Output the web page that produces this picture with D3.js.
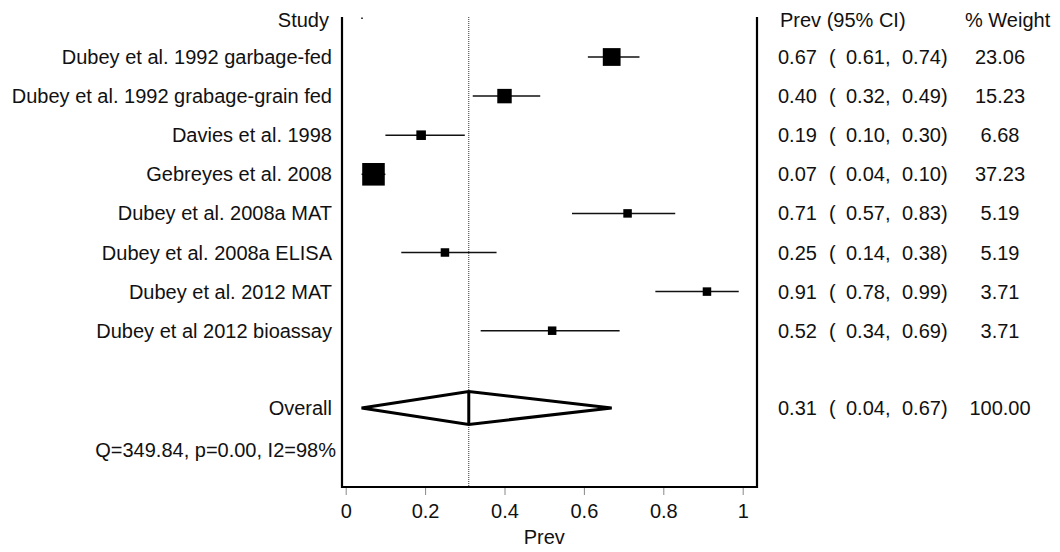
<!DOCTYPE html>
<html>
<head>
<meta charset="utf-8">
<script src="https://cdn.jsdelivr.net/npm/d3@7"></script>
<style>
  html, body { margin: 0; padding: 0; background: #fff; }
  svg text { font-family: "Liberation Sans", Arial, Helvetica, sans-serif; font-size: 20px; fill: #111; }
</style>
</head>
<body>
<svg id="chart" width="1060" height="552"></svg>
<script>
// Study-level prevalence estimates (random-effects meta-analysis)
const studies = [
  "Dubey et al. 1992 garbage-fed",
  "Dubey et al. 1992 grabage-grain fed",
  "Davies et al. 1998",
  "Gebreyes et al. 2008",
  "Dubey et al. 2008a MAT",
  "Dubey et al. 2008a ELISA",
  "Dubey et al. 2012 MAT",
  "Dubey et al 2012 bioassay"
];
const prev   = [0.67, 0.40, 0.19, 0.07, 0.71, 0.25, 0.91, 0.52];
const lower  = [0.61, 0.32, 0.10, 0.04, 0.57, 0.14, 0.78, 0.34];
const upper  = [0.74, 0.49, 0.30, 0.10, 0.83, 0.38, 0.99, 0.69];
const weight = [23.06, 15.23, 6.68, 37.23, 5.19, 5.19, 3.71, 3.71];

// Pooled estimate and heterogeneity
const overallPrev = 0.31, overallLower = 0.04, overallUpper = 0.67, overallWeight = 100.00;
const heterogeneity = "Q=349.84, p=0.00, I2=98%";

const tickValues = [0, 0.2, 0.4, 0.6, 0.8, 1];
const axisTitle = "Prev";

const svg = d3.select("#chart");
const f2 = d3.format(".2f");

// Layout
const x = d3.scaleLinear().domain([0, 1]).range([345.7, 742.7]);
const row = d3.scaleLinear().domain([0, 1]).range([17.9, 57.0]);   // row index -> y
const frameL = 342, frameR = 757, frameT = 17, frameB = 487;
const labelX = 332, estX = 778, wX = 1000;
const baseShift = 7;

// Frame (open at top)
svg.append("path")
  .attr("d", `M${frameL},${frameT}V${frameB}H${frameR}V${frameT}`)
  .attr("fill", "none").attr("stroke", "#000").attr("stroke-width", 2.2);

// Reference line at pooled estimate
svg.append("line")
  .attr("x1", x(overallPrev)).attr("x2", x(overallPrev))
  .attr("y1", frameT).attr("y2", frameB)
  .attr("stroke", "#333").attr("stroke-width", 1).attr("stroke-dasharray", "1,1");

// small mark near top-left of plotting region
svg.append("rect").attr("x", 361).attr("y", 17.5).attr("width", 2).attr("height", 1.5).attr("fill", "#444");

// X axis
const axis = d3.axisBottom(x).tickValues(tickValues).tickSize(7).tickPadding(9)
  .tickFormat(d => d3.format("~g")(d));
const gx = svg.append("g").attr("transform", `translate(0,${frameB + 1})`).call(axis);
gx.select(".domain").remove();
gx.selectAll(".tick line").attr("stroke", "#888").attr("stroke-width", 1);
gx.selectAll(".tick text").attr("font-size", 20)
  .attr("font-family", '"Liberation Sans", Arial, sans-serif').attr("fill", "#111");

svg.append("text").attr("x", x(0.5)).attr("y", 544).attr("text-anchor", "middle").text(axisTitle);

// Headers
svg.append("text").attr("x", labelX - 3).attr("y", row(0) + baseShift + 2).attr("text-anchor", "end").text("Study");
svg.append("text").attr("x", estX + 2).attr("y", row(0) + baseShift + 2).text("Prev (95% CI)");
svg.append("text").attr("x", 965).attr("y", row(0) + baseShift + 2).text("% Weight");

// Study rows
const side = w => Math.max(8.5, 3.7 * Math.sqrt(w));
const rows = studies.map((s, i) => ({ s, p: prev[i], lo: lower[i], hi: upper[i], w: weight[i], y: row(i + 1) }));

const g = svg.append("g");
g.selectAll(".ci").data(rows).join("line")
  .attr("x1", d => x(d.lo)).attr("x2", d => x(d.hi))
  .attr("y1", d => d.y).attr("y2", d => d.y)
  .attr("stroke", "#111").attr("stroke-width", 1.5);
g.selectAll(".box").data(rows).join("rect")
  .attr("x", d => x(d.p) - side(d.w) / 2).attr("y", d => d.y - side(d.w) / 2)
  .attr("width", d => side(d.w)).attr("height", d => side(d.w))
  .attr("fill", "#000");

g.selectAll(".lab").data(rows).join("text")
  .attr("x", labelX).attr("y", d => d.y + baseShift).attr("text-anchor", "end").text(d => d.s);

function ciText(sel, p, lo, hi, y) {
  sel.append("text").attr("x", estX).attr("y", y).text(f2(p));
  sel.append("text").attr("x", 829).attr("y", y).text("(");
  sel.append("text").attr("x", 846).attr("y", y).text(f2(lo) + ",");
  sel.append("text").attr("x", 902).attr("y", y).text(f2(hi) + ")");
}
rows.forEach(d => {
  ciText(svg, d.p, d.lo, d.hi, d.y + baseShift);
  svg.append("text").attr("x", wX).attr("y", d.y + baseShift).attr("text-anchor", "middle").text(f2(d.w));
});

// Overall (pooled) row
const yO = row(10) - 1;
const hd = 16.5;
svg.append("path")
  .attr("d", `M${x(overallLower)},${yO}L${x(overallPrev)},${yO - hd}L${x(overallUpper)},${yO}L${x(overallPrev)},${yO + hd}Z`)
  .attr("fill", "none").attr("stroke", "#000").attr("stroke-width", 3).attr("stroke-linejoin", "miter");
svg.append("line")
  .attr("x1", x(overallPrev)).attr("x2", x(overallPrev))
  .attr("y1", yO - hd).attr("y2", yO + hd)
  .attr("stroke", "#000").attr("stroke-width", 3);

svg.append("text").attr("x", labelX).attr("y", yO + baseShift).attr("text-anchor", "end").text("Overall");
ciText(svg, overallPrev, overallLower, overallUpper, yO + baseShift);
svg.append("text").attr("x", wX).attr("y", yO + baseShift).attr("text-anchor", "middle").text(f2(overallWeight));

svg.append("text").attr("x", 336).attr("y", row(11) + baseShift + 2).attr("text-anchor", "end").text(heterogeneity);
</script>
</body>
</html>
